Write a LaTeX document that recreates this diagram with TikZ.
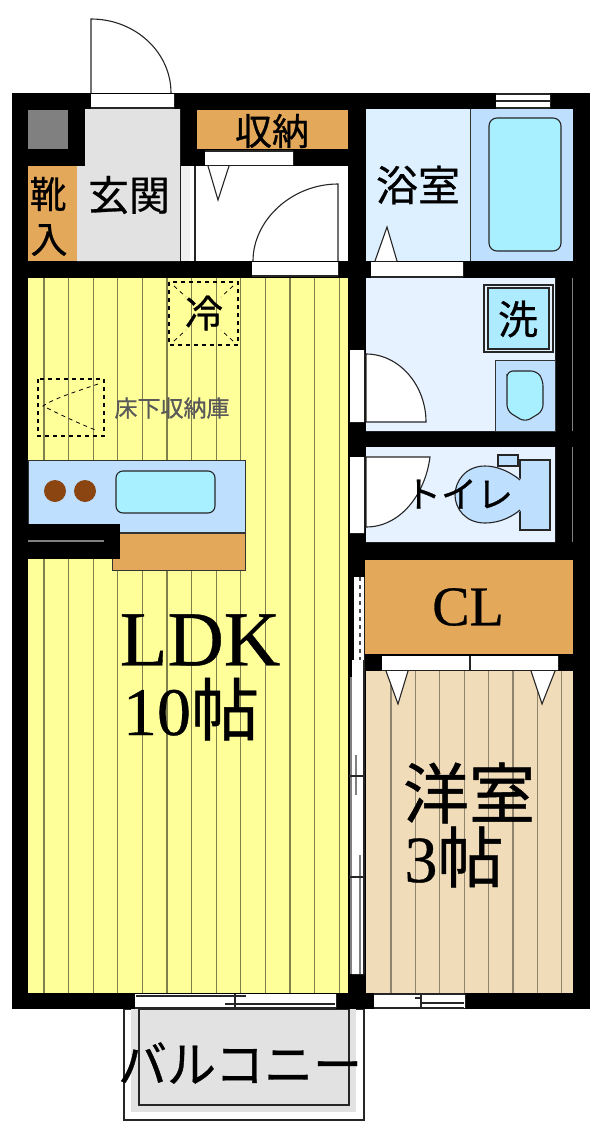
\documentclass[tikz,border=0pt]{standalone}
\usepackage{fontspec}
\setmainfont[FakeBold=0.5]{Liberation Serif}
\newfontfamily\cjk[FakeBold=0.7]{Noto Sans CJK JP}
\definecolor{wallgray}{HTML}{808080}
\definecolor{entrygray}{HTML}{E2E2E2}
\definecolor{closet}{HTML}{E4A85A}
\definecolor{bathpale}{HTML}{DDF0FF}
\definecolor{washpale}{HTML}{E6F2FF}
\definecolor{fixture}{HTML}{BFDFFF}
\definecolor{water}{HTML}{A8F0FF}
\definecolor{floorldk}{HTML}{FFFF99}
\definecolor{floorwest}{HTML}{F0DCB8}
\definecolor{burner}{HTML}{8B4510}
\tikzset{
  room/.style={line width=0.6pt,draw=black!80},
  doorline/.style={line width=1.1pt,draw=black!85},
  dashline/.style={line width=1.1pt,dash pattern=on 4pt off 4pt},
  jptext/.style={font=\cjk\fontsize{#1}{#1}\selectfont,inner sep=0pt},
  lattext/.style={font=\fontsize{#1}{#1}\selectfont,inner sep=0pt},
}
\begin{document}
\begin{tikzpicture}[x=1pt,y=-1pt]
  \useasboundingbox (0,0) rectangle (600,1135);
  % balcony
  \draw[doorline] (124,1009) rectangle (364,1120);
  \fill[entrygray] (131,1009) rectangle (356,1112);
  \draw[doorline] (139,1009) rectangle (349,1105);
  % walls
  \fill[black] (12,93) rectangle (590,1009);
  % LDK floor
  \fill[floorldk] (28,278) rectangle (348,993);
  \foreach \xline in {0,...,12}
    \draw[line width=1.2pt,draw=black!50!floorldk] ({44+24.6*\xline},278) -- ({44+24.6*\xline},993);
  % entrance, shoes, shaft
  \fill[wallgray] (28,110) rectangle (68,149);
  \fill[entrygray] (85,109) rectangle (180,166) (77,166) rectangle (180,261);
  \fill[closet] (28,166) rectangle (77,261);
  \fill[entrygray!50!white] (181,166) rectangle (195,261);
  \fill[white] (190,166) rectangle (348,261);
  \draw[doorline] (195,166) -- (195,261);
  \fill[closet] (197,110) rectangle (348,149);
  % baths
  \fill[bathpale] (366,109) rectangle (470,261);
  \fill[fixture] (470,109) rectangle (573,261);
  \draw[room] (470,109) -- (470,261);
  \draw[doorline,fill=water,rounded corners=8pt] (489,118) rectangle (561,251);
  \fill[washpale] (366,278) rectangle (555,431) (366,447) rectangle (555,542);
  \draw[line width=1pt,draw=wallgray] (572,278) -- (572,431) (572,447) -- (572,542);
  % washer
  \draw[doorline,fill=washpale] (484,285) rectangle (553,352);
  \draw[doorline,fill=water!70!fixture] (488,288) rectangle (549,349);
  % basin
  \draw[room,fill=fixture] (495,360) rectangle (555,431);
  \draw[doorline,fill=water,rounded corners=6pt] (507,371) -- (537,371) -- (543,380) -- (543,411) -- (525,422) -- (507,411) -- (507,380) -- cycle;
  % closet and western room
  \fill[closet] (365,560) rectangle (573,654);
  \fill[floorwest] (366,671) rectangle (573,993);
  \foreach \xline in {0,...,7}
    \draw[line width=1.2pt,draw=black!40!floorwest] ({391+24.4*\xline},671) -- ({391+24.4*\xline},993);
  % door gaps
  \fill[white] (91,94) rectangle (174,108) (205,151) rectangle (293,165)
    (252,262) rectangle (338,276) (371,262) rectangle (463,277)
    (496,94) rectangle (550,108) (350,350) rectangle (364,422)
    (350,457) rectangle (364,533) (382,656) rectangle (558,670)
    (135,994) rectangle (336,1008) (374,994) rectangle (465,1008)
    (354,577) rectangle (364,660) (352,660) rectangle (364,974);
  \draw[doorline] (91,108) -- (174,108) (252,276) -- (338,276) (205,151) -- (293,151)
    (371,277) -- (463,277) (470,656) -- (470,670);
  \draw[doorline] (496,94) -- (550,94) (496,101) -- (550,101) (496,108) -- (550,108);
  % entrance door
  \draw[doorline] (91,93) -- (91,19) .. controls (135,19) and (171,52) .. (171,93);
  % hall door
  \draw[doorline] (338,261) -- (338,184) .. controls (292,184) and (253,220) .. (253,261);
  % wash door
  \draw[doorline,fill=white] (366,354) .. controls (399,354) and (426,385) .. (426,422) -- (366,422) -- cycle;
  % triangles
  \draw[doorline,fill=white] (208,166) -- (218,200) -- (229,166);
  \draw[doorline,fill=white] (375,261) -- (387,227) -- (397,261);
  \draw[doorline,fill=white] (386,671) -- (398,704) -- (408,671);
  \draw[doorline,fill=white] (531,671) -- (542,704) -- (555,671);
  % toilet
  \draw[doorline,fill=fixture] (520,460) rectangle (550,530);
  \draw[doorline,fill=fixture] (498,455) rectangle (518,466);
  \fill[fixture] (522,480) .. controls (508,470) and (495,466) .. (485,466) .. controls (465,466) and (455,482) .. (455,495) .. controls (455,508) and (465,523) .. (485,523) .. controls (495,523) and (508,520) .. (522,510) -- cycle;
  \draw[doorline] (520,480) .. controls (508,470) and (495,466) .. (485,466) .. controls (465,466) and (455,482) .. (455,495) .. controls (455,508) and (465,523) .. (485,523) .. controls (495,523) and (508,520) .. (520,510);
  \draw[doorline,fill=white] (366,457) -- (430,457) .. controls (425,495) and (400,527) .. (366,527) -- cycle;
  % sliding door
  \draw[doorline,draw=wallgray] (351,677) -- (351,974) (356,755) -- (356,795) (360,855) -- (360,974);
  \draw[doorline] (364,660) -- (364,974) (349,776) -- (364,776) (349,877) -- (364,877);
  \draw[dashline,draw=black!70] (360,577) -- (360,660);
  % windows
  \draw[doorline] (136,996) -- (246,996) (225,1004) -- (335,1004) (135,1008) -- (336,1008) (235,994) -- (235,1008);
  \draw[doorline] (374,994) -- (465,994) (420,1003) -- (464,1003) (374,1008) -- (464,1008) (415,998) -- (421,998) (421,994) -- (421,1008);
  % kitchen
  \draw[room,fill=fixture] (28,460) rectangle (245,532);
  \draw[room,fill=closet] (112,533) rectangle (245,570);
  \fill[black] (12,524) rectangle (120,559);
  \draw[line width=1.2pt,draw=wallgray] (28,541) -- (104,541);
  \fill[burner] (55,491) circle[radius=11pt] (85,491) circle[radius=11pt];
  \draw[doorline,fill=water,rounded corners=7pt] (116,471) rectangle (215,513);
  % fridge and floor storage
  \draw[dashline] (169,282) rectangle (238,345);
  \draw[dashline,line width=0.8pt] (174,286) -- (186,297) (233,286) -- (221,297) (174,341) -- (186,330) (233,341) -- (221,330);
  \draw[dashline] (38,379) rectangle (104,436);
  \draw[dashline,line width=0.8pt] (98,384) .. controls (75,392) and (55,398) .. (43,406) .. controls (55,412) and (75,422) .. (98,431);
  % labels
  \node[jptext=37] (storage) at (272,131) {収納};
  \node[jptext=37] (shoesa) at (48,194) {靴};
  \node[jptext=37] (shoesb) at (49,240) {入};
  \node[jptext=41] (entrance) at (129,195) {玄関};
  \node[jptext=42] (bath) at (418,185) {浴室};
  \node[jptext=40] (washer) at (518,319) {洗};
  \node[jptext=38] (fridge) at (204,313) {冷};
  \node[jptext=23,text=black!65] (underfloor) at (172,408) {床下収納庫};
  \node[jptext=36] (toilet) at (459,494) {トイレ};
  \node[lattext=56] (cl) at (468,607) {CL};
  \node[lattext=78] (ldk) at (200,640) {LDK};
  \node[lattext=68,text height=46pt,text depth=0pt] (ldksize) at (191,712) {10{\cjk 帖}};
  \node[jptext=66] (western) at (469,793) {洋室};
  \node[lattext=66] (westsize) at (454,857) {3{\cjk 帖}};
  \node[jptext=49] (balcony) at (240,1063) {バルコニー};
\end{tikzpicture}
\end{document}
